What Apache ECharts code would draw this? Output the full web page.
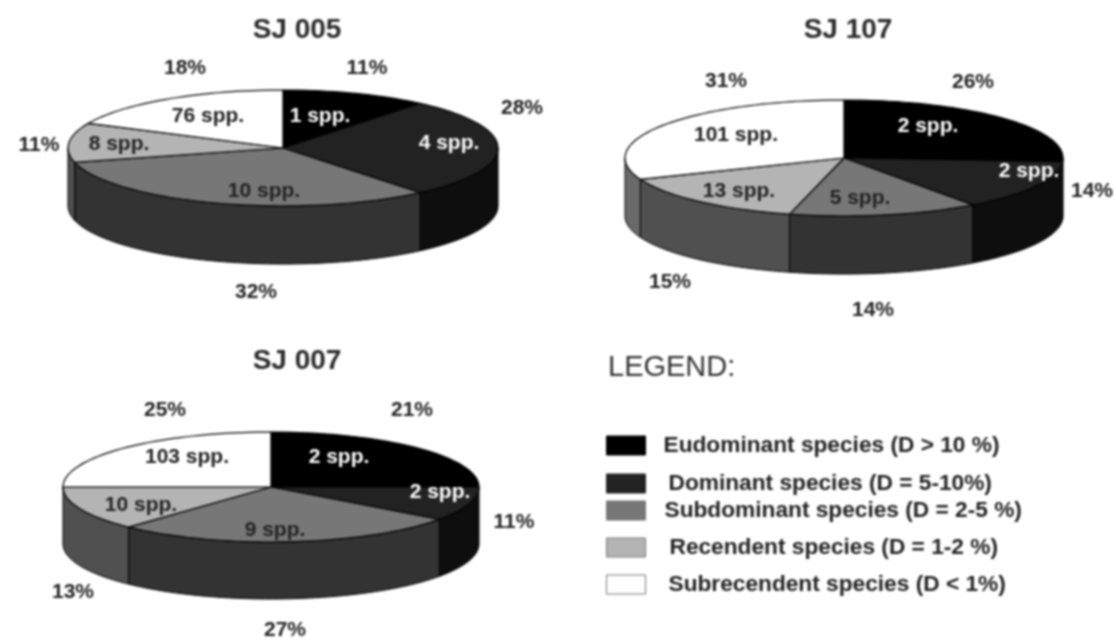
<!DOCTYPE html>
<html><head><meta charset="utf-8">
<style>html,body{margin:0;padding:0;background:#fff}#c{width:1116px;height:641px;filter:blur(0.8px)}</style>
<script src="https://cdn.jsdelivr.net/npm/echarts@6/dist/echarts.min.js"></script>
</head><body><div id="c"></div>
<script>
const classNames = ['Eudominant species (D > 10 %)','Dominant species (D = 5-10%)','Subdominant species (D = 2-5 %)','Recendent species (D = 1-2 %)','Subrecendent species (D < 1%)'];
const pieNames = ['SJ 005','SJ 107','SJ 007'];
// drawn slice shares
const shares005 = [11,28,32,11,18];
const shares107 = [26,14,14,15,31];
const shares007 = [25,10,27,13,25];
// printed labels
const pct005 = ['11%','28%','32%','11%','18%'];
const pct107 = ['26%','14%','14%','15%','31%'];
const pct007 = ['21%','11%','27%','13%','25%'];
const spp005 = ['1 spp.','4 spp.','10 spp.','8 spp.','76 spp.'];
const spp107 = ['2 spp.','2 spp.','5 spp.','13 spp.','101 spp.'];
const spp007 = ['2 spp.','2 spp.','9 spp.','10 spp.','103 spp.'];

// layout
const geom = [
  {cx:283,cy:148,rx:215,ry:58,d:58},
  {cx:844,cy:158,rx:219,ry:58,d:58},
  {cx:271,cy:487,rx:208,ry:55,d:57}
];
const pctPos = [
  [[367,68],[522,108],[256,292],[39,145],[185,68]],
  [[973,82],[1092,191],[873,310],[670,282],[726,81]],
  [[412,410],[514,522],[285,630],[73,592],[165,410]]
];
const sppPos = [
  [[320,116],[449,143],[264,191],[119,144],[208,116]],
  [[928,126],[1029,171],[860,198],[739,191],[736,135]],
  [[339,457],[440,492],[275,530],[141,505],[187,457]]
];
const topColors = ['#000000','#222222','#777777','#b4b4b4','#ffffff'];
const sideColors = ['#000000','#0e0e0e','#333333','#505050','#6a6a6a'];
const sppColors = ['#ffffff','#ffffff','#222222','#222222','#222222'];
const legendTop = [434,472,499,536,573];
const legendPad = [18,23,19,24,23];
const legendTextDy = [1,1,3,-2,-2];

const allShares=[shares005,shares107,shares007], allPct=[pct005,pct107,pct007], allSpp=[spp005,spp107,spp007];
const FF='"Liberation Sans",Arial,sans-serif';

function pt(g,a,dz){const r=a*Math.PI/180;return [g.cx+g.rx*Math.sin(r),g.cy-g.ry*Math.cos(r)+(dz||0)];}
function arc(g,a0,a1,dz){const n=Math.max(2,Math.ceil(Math.abs(a1-a0)/2));const o=[];for(let i=0;i<=n;i++)o.push(pt(g,a0+(a1-a0)*i/n,dz));return o;}

function makeRender(cls){
  return function(params){
    const p=params.dataIndex,g=geom[p],s=allShares[p];
    const total=s.reduce((a,b)=>a+b,0);
    let before=0;for(let i=0;i<cls;i++)before+=s[i];
    const a0=before/total*360,a1=(before+s[cls])/total*360;
    const children=[];
    const b0=Math.max(a0,90),b1=Math.min(a1,270);
    if(b1>b0){
      const pts=arc(g,b0,b1,0).concat(arc(g,b1,b0,g.d));
      children.push({type:'polygon',z2:1,shape:{points:pts},style:{fill:sideColors[cls],stroke:'#000',lineWidth:1}});
    }
    children.push({type:'polygon',z2:5,shape:{points:[[g.cx,g.cy]].concat(arc(g,a0,a1,0))},style:{fill:topColors[cls],stroke:'#000',lineWidth:1.2}});
    children.push({type:'text',z2:10,style:{text:allSpp[p][cls],x:sppPos[p][cls][0],y:sppPos[p][cls][1],fill:sppColors[cls],font:'bold 21px '+FF,align:'center',verticalAlign:'middle'}});
    children.push({type:'text',z2:10,style:{text:allPct[p][cls],x:pctPos[p][cls][0],y:pctPos[p][cls][1],fill:'#222',font:'bold 21px '+FF,align:'center',verticalAlign:'middle'}});
    return {type:'group',children};
  };
}
const series=classNames.map((name,cls)=>({
  type:'custom',name,coordinateSystem:'none',silent:true,animation:false,
  itemStyle:{color:topColors[cls]},
  renderItem:makeRender(cls),
  data:allShares.map(s=>s[cls])
}));
const titleStyle={fontFamily:FF,fontSize:28,fontWeight:'bold',color:'#2a2a2a'};
const titles=[[297,16],[848,16],[297,347]].map((q,i)=>({text:pieNames[i],left:q[0],top:q[1],textAlign:'center',padding:0,textStyle:titleStyle}));
titles.push({text:'LEGEND:',left:608,top:353,padding:0,textStyle:{fontFamily:FF,fontSize:29,fontWeight:'normal',color:'#333'}});
const legends=classNames.map((name,cls)=>({
  left:606,top:legendTop[cls],padding:0,orient:'vertical',selectedMode:false,
  itemWidth:39,itemHeight:19,
  data:[{name,icon:'rect',itemStyle:{color:topColors[cls],borderColor:cls>=3?'#777':topColors[cls],borderWidth:1}}],
  textStyle:{fontFamily:FF,fontSize:22.7,fontWeight:'bold',color:'#222',
    padding:[Math.max(legendTextDy[cls]*2,0),0,Math.max(-legendTextDy[cls]*2,0),legendPad[cls]-5]}
}));
const chart=echarts.init(document.getElementById('c'),null,{renderer:'canvas'});
chart.setOption({animation:false,backgroundColor:'#fff',title:titles,legend:legends,series});
</script></body></html>
